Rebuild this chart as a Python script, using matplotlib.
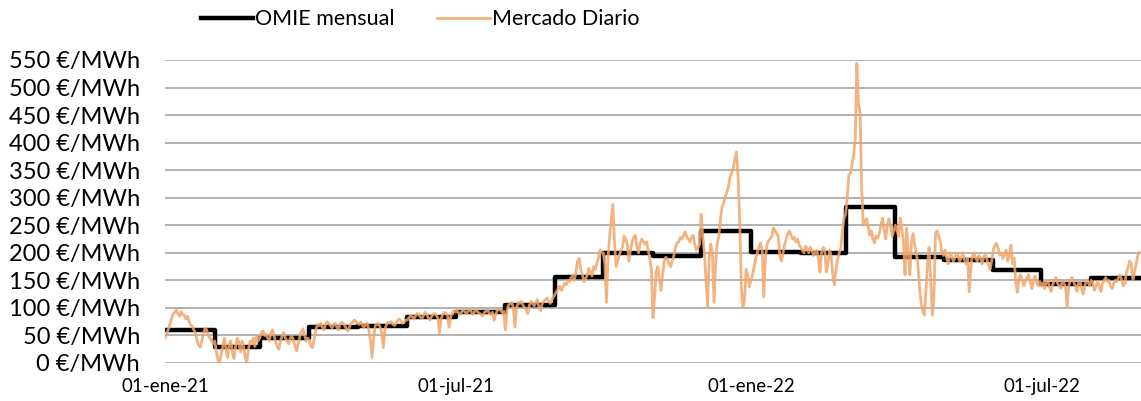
import matplotlib.pyplot as plt
import pandas as pd
import numpy as np

plt.rcParams['font.family'] = ['Lato', 'DejaVu Sans']

# precio medio mensual OMIE (€/MWh)
meses = pd.date_range('2021-01-01', '2022-08-01', freq='MS')
omie_mensual = [60.17, 28.49, 45.44, 65.02, 67.12, 83.30, 92.42, 105.94, 156.14, 199.90,
                193.43, 239.16, 201.72, 200.22, 283.30, 191.52, 187.13, 169.58, 142.67, 154.89]

# mercado diario, un valor por dia
ene21 = [45, 52, 60, 70, 80, 88, 92, 96, 90, 85, 93, 88, 87, 80, 85, 75, 70, 66, 60, 55,
         40, 32, 29, 40, 55, 63, 60, 50, 45, 40, 35]
feb21 = [40, 20, 5, 2, 15, 30, 45, 25, 10, 35, 40, 20, 8, 30, 45, 38, 20, 40, 30, 10,
         2, 25, 40, 35, 45, 30, 48, 40]
mar21 = [45, 55, 58, 50, 52, 45, 40, 55, 60, 48, 38, 30, 25, 40, 50, 55, 45, 40, 35, 45,
         50, 42, 30, 22, 35, 48, 58, 62, 50, 40, 45]
abr21 = [40, 30, 28, 45, 60, 70, 68, 72, 65, 60, 70, 75, 72, 68, 64, 70, 72, 66, 60, 70,
         74, 72, 68, 62, 58, 66, 72, 75, 78, 74]
may21 = [72, 70, 74, 68, 65, 70, 72, 60, 40, 10, 45, 68, 70, 72, 65, 55, 28, 60, 70, 74,
         72, 75, 70, 68, 72, 78, 80, 76, 72, 74, 78]
jun21 = [78, 82, 86, 84, 80, 85, 90, 88, 84, 80, 86, 92, 88, 82, 78, 84, 88, 90, 86, 82,
         55, 80, 88, 92, 90, 86, 65, 84, 92, 95]
jul21 = [92, 95, 90, 88, 94, 96, 92, 90, 95, 98, 92, 88, 94, 96, 92, 90, 88, 85, 92, 94,
         96, 90, 88, 92, 78, 88, 95, 98, 96, 92, 94]
ago21 = [60, 95, 105, 108, 110, 100, 65, 100, 110, 108, 112, 105, 100, 98, 90, 105, 112, 108, 104, 110,
         115, 100, 95, 108, 112, 115, 118, 112, 108, 115, 120]
sep21 = [125, 130, 135, 140, 132, 138, 145, 142, 150, 148, 155, 160, 150, 165, 185, 190, 170, 160, 148, 152,
         160, 172, 165, 158, 175, 170, 180, 190, 205, 200]
oct21 = [200, 180, 110, 190, 230, 260, 288, 220, 175, 185, 195, 205, 210, 230, 225, 215, 185, 205, 220, 228,
         232, 210, 200, 218, 225, 220, 215, 220, 205, 190, 170]
nov21 = [82, 120, 165, 175, 150, 132, 160, 185, 192, 188, 180, 175, 185, 195, 210, 218, 220, 228, 225, 232,
         238, 230, 225, 220, 228, 232, 215, 205, 210, 215]
dic21 = [270, 230, 200, 150, 102, 190, 216, 200, 110, 180, 216, 230, 260, 283, 290, 301, 310, 320, 338, 345,
         355, 370, 383, 340, 260, 140, 100, 114, 170, 160, 138]
ene22 = [150, 160, 175, 190, 200, 210, 218, 205, 120, 190, 215, 222, 225, 230, 245, 240, 235, 230, 195, 185,
         200, 215, 225, 235, 240, 232, 225, 228, 220, 225, 215]
feb22 = [210, 205, 200, 212, 208, 200, 210, 205, 195, 200, 205, 190, 165, 200, 210, 205, 165, 180, 205, 195,
         160, 142, 170, 188, 200, 209, 240, 263]
mar22 = [270, 300, 341, 345, 360, 378, 408, 544, 470, 455, 318, 250, 255, 262, 248, 232, 240, 225, 218, 230,
         227, 235, 250, 263, 240, 225, 250, 262, 249, 230, 240]
abr22 = [250, 240, 230, 263, 245, 220, 160, 245, 200, 160, 220, 235, 215, 200, 180, 136, 111, 95, 87, 130,
         180, 210, 150, 87, 120, 235, 240, 230, 220, 200]
may22 = [195, 205, 190, 180, 200, 195, 185, 190, 200, 195, 185, 190, 200, 188, 180, 190, 129, 175, 195, 200,
         190, 185, 195, 190, 180, 192, 198, 188, 178, 170, 185]
jun22 = [205, 214, 217, 208, 196, 200, 190, 198, 205, 185, 195, 214, 180, 190, 145, 128, 155, 160, 150, 140,
         148, 155, 160, 145, 135, 150, 158, 145, 140, 148]
jul22 = [140, 145, 135, 150, 148, 138, 130, 142, 150, 155, 145, 140, 135, 150, 145, 138, 102, 140, 150, 155,
         148, 140, 130, 145, 150, 135, 125, 140, 150, 148, 140]
ago22 = [150, 145, 132, 140, 148, 138, 130, 145, 150, 155, 148, 150, 140, 135, 145, 150, 148, 155, 160, 150,
         140, 145, 165, 174, 185, 178, 150, 165, 180, 195, 201]

diario = (ene21 + feb21 + mar21 + abr21 + may21 + jun21 + jul21 + ago21 + sep21 + oct21 + nov21 + dic21
          + ene22 + feb22 + mar22 + abr22 + may22 + jun22 + jul22 + ago22)
dias = pd.date_range('2021-01-01', periods=len(diario), freq='D')

fig = plt.figure(figsize=(11.41, 4.01), dpi=100)
ax = fig.add_axes([0.1446, 0.0948, 0.8554, 0.7556])

fin = pd.Timestamp('2022-09-01')
x_m = list(meses) + [fin]
y_m = omie_mensual + [omie_mensual[-1]]
ax.step(x_m, y_m, where='post', color='black', lw=3.2, label='OMIE mensual', zorder=3)
ax.plot(dias, diario, color='#F2A66A', alpha=0.85, lw=2.0, label='Mercado Diario', zorder=4)

ax.set_xlim(pd.Timestamp('2021-01-01'), fin)
ax.set_ylim(0, 550)
yt = np.arange(0, 551, 50)
ax.set_yticks(yt)
ax.set_yticklabels([f'{v} €/MWh' for v in yt], fontsize=17)
xt = pd.to_datetime(['2021-01-01', '2021-07-01', '2022-01-01', '2022-07-01'])
ax.set_xticks(xt)
ax.set_xticklabels(['01-ene-21', '01-jul-21', '01-ene-22', '01-jul-22'], fontsize=13.5)
ax.tick_params(axis='y', length=0, pad=18)
ax.tick_params(axis='x', length=0, pad=11)
ax.grid(axis='y', color='#A6A6A6', lw=1.2)
ax.set_axisbelow(True)
for s in ax.spines.values():
    s.set_visible(False)

fig.legend(loc='center', bbox_to_anchor=(0.368, 0.952), ncol=2, frameon=False, fontsize=15.5,
           handlelength=2.45, handletextpad=0.1, columnspacing=1.95)

fig.savefig('out.png', dpi=100)
